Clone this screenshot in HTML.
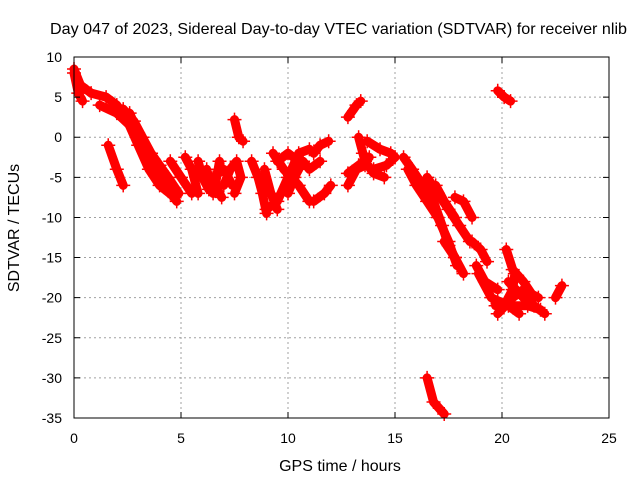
<!DOCTYPE html>
<html><head><meta charset="utf-8"><style>
body{margin:0;background:#fff}
svg text{font-family:"Liberation Sans",sans-serif;font-size:14px;fill:#000}
svg text.big{font-size:16px}
</style></head><body>
<svg id="chart" width="640" height="480" viewBox="0 0 640 480" xmlns="http://www.w3.org/2000/svg">
<rect width="640" height="480" fill="#fff"/>
<g id="grid"></g>
<g id="series"></g>
<rect x="74" y="57" width="535" height="361" fill="none" stroke="#000" stroke-width="1"/>
<g id="ticks"></g>
<text class="big" x="50" y="34" textLength="577" lengthAdjust="spacingAndGlyphs">Day 047 of 2023, Sidereal Day-to-day VTEC variation (SDTVAR) for receiver nlib</text>
<text class="big" x="340" y="471" text-anchor="middle">GPS time / hours</text>
<text class="big" x="0" y="0" text-anchor="middle" transform="translate(19,228) rotate(-90)">SDTVAR / TECUs</text>
</svg>
<script>
const xTicks=[0,5,10,15,20,25];
const yTicks=[10,5,0,-5,-10,-15,-20,-25,-30,-35];
const tracks=[
[[0,8.5],[0.3,6.5],[0.8,5.5],[1.5,5],[2,4],[2.5,2],[3,-1],[3.5,-4],[4,-6],[4.7,-7.5]],
[[1.2,4],[2,3],[2.8,1],[3.3,-1.5],[3.8,-4],[4.3,-6],[4.8,-8]],
[[2.3,3.5],[2.8,2],[3.2,0],[3.6,-2],[4,-3.5],[4.4,-5],[4.9,-7]],
[[2.6,3],[3,0.5],[3.4,-2.5],[3.9,-5],[4.5,-7]],
[[0,8],[0.2,5.5],[0.4,4.5]],
[[1.6,-1],[2,-4],[2.3,-6]],
[[7.5,2.2],[7.7,0],[7.9,-0.5]],
[[4.5,-3],[5,-5],[5.5,-7]],
[[5.2,-2.5],[5.5,-4],[5.8,-7]],
[[5.8,-3],[6,-5],[6.3,-6.5]],
[[6.2,-4],[6.5,-7]],
[[6.8,-3],[6.6,-6],[6.9,-7.5]],
[[6.5,-5],[7,-4],[7.4,-6]],
[[7,-6],[7.3,-4],[7.6,-3],[7.8,-5],[7.5,-7]],
[[8.3,-3],[8.6,-5],[8.8,-7],[9,-9.5]],
[[8.9,-4],[9.2,-7],[9.5,-9]],
[[9,-9],[9.5,-8],[10,-5],[10.5,-2],[11,-1.5]],
[[9.3,-2],[9.8,-4],[10.5,-6],[11,-8]],
[[9.5,-3],[10,-2],[10.5,-3]],
[[10,-7],[10.3,-5],[10.7,-3]],
[[11.2,-8],[11.7,-7],[12,-6]],
[[11.2,-2],[11.5,-1],[11.9,-0.5]],
[[10.7,-3],[11,-4],[11.5,-3]],
[[12.8,-6],[13.2,-4],[13.6,-3.5]],
[[12.8,-4.5],[13.3,-3.5],[13.8,-2.5]],
[[12.8,2.5],[13.2,4],[13.4,4.5]],
[[13.3,0],[13.5,-2],[13.6,-3],[14,-4.5],[14.5,-5]],
[[13.7,-0.5],[14.3,-1.5],[14.8,-2],[15,-2.5]],
[[14,-4],[14.6,-3.5],[15,-2.5]],
[[15.4,-2.5],[15.8,-4],[16.3,-6],[16.8,-8],[17.2,-11],[17.5,-13.5],[17.8,-15]],
[[15.6,-4],[16,-6],[16.5,-8],[17,-10],[17.5,-13],[17.9,-16]],
[[16.5,-5],[17,-7],[17.5,-9],[18,-11],[18.5,-13]],
[[16.9,-6],[17.3,-8],[17.8,-10]],
[[17.8,-7.5],[18.2,-8],[18.6,-10]],
[[17.3,-13],[17.8,-15],[18.2,-17]],
[[18.6,-13],[19,-14],[19.3,-15.5]],
[[18.8,-16],[19.2,-18],[19.8,-19]],
[[18.9,-17],[19.5,-20],[20.3,-21],[20.8,-22]],
[[19.7,-21],[20.2,-20.5],[20.5,-19],[20.6,-17]],
[[20.3,-18],[21,-20],[21.5,-21],[22,-22]],
[[19.8,-22],[20.5,-20],[21,-19],[21.7,-20]],
[[20.5,-21],[21.2,-21],[21.8,-21.5]],
[[22.5,-20],[22.8,-18.5]],
[[20.2,-14],[20.5,-16.5],[21,-18],[21.5,-20]],
[[16.5,-30],[16.8,-33],[17.3,-34.5]],
[[19.8,5.8],[20.1,5],[20.4,4.5]]
];
const NS='http://www.w3.org/2000/svg';
const X0=74,X1=609,Y0=418,Y1=57;
function xs(t){return X0+(t-0)/(25-0)*(X1-X0);}
function ys(v){return Y0-(v-(-35))/(10-(-35))*(Y0-Y1);}
const grid=document.getElementById('grid'),ticks=document.getElementById('ticks'),ser=document.getElementById('series');
function mk(tag,attrs,parent){const e=document.createElementNS(NS,tag);for(const k in attrs)e.setAttribute(k,attrs[k]);parent.appendChild(e);return e;}
xTicks.forEach(t=>{const x=xs(t);
 if(t>0&&t<25){const g=mk('line',{x1:x,x2:x,y1:Y1,y2:Y0,stroke:'#a0a0a0','stroke-dasharray':'2,3'},grid);
 
 }
 const tk=mk('path',{d:`M${x},${Y0}v-6M${x},${Y1}v6`,stroke:'#000'},ticks);
 
 
 const l=mk('text',{x:x,y:443,'text-anchor':'middle'},ticks);l.textContent=t;
 
 
});
yTicks.forEach(v=>{const y=ys(v);
 if(v<10&&v>-35){const g=mk('line',{x1:X0,x2:X1,y1:y,y2:y,stroke:'#a0a0a0','stroke-dasharray':'2,3'},grid);
 
 }
 const tk=mk('path',{d:`M${X0},${y}h6M${X1},${y}h-6`,stroke:'#000'},ticks);
 
 
 const l=mk('text',{x:62,y:y+5,'text-anchor':'end'},ticks);l.textContent=v;
 
 
});
tracks.forEach(tr=>{
 const pts=tr.map(p=>xs(p[0])+','+ys(p[1])).join(' ');
 const pl=mk('polyline',{points:pts,fill:'none',stroke:'#f00','stroke-width':9,'stroke-linecap':'round','stroke-linejoin':'round'},ser);
 
 
 tr.forEach(p=>{const x=xs(p[0]),y=ys(p[1]);
  const m=mk('path',{d:`M${x-7},${y}h14M${x},${y-7}v14`,stroke:'#f00','stroke-width':1.5},ser);
  
  
 });
});
</script>
</body></html>
